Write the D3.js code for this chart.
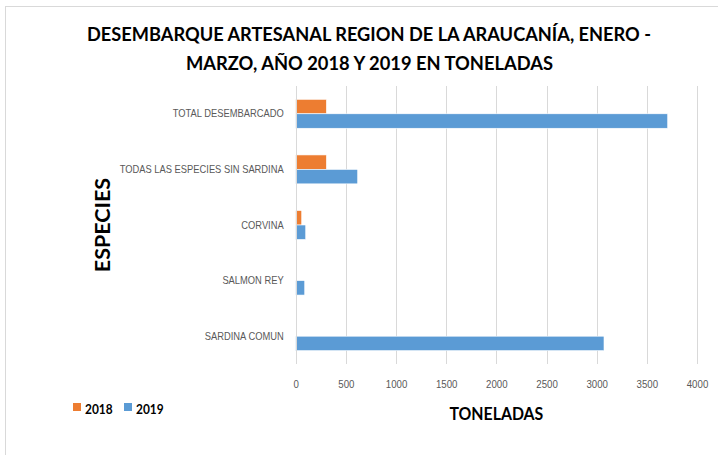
<!DOCTYPE html>
<html>
<head>
<meta charset="utf-8">
<script src="https://cdn.jsdelivr.net/npm/d3@7"></script>
<style>
  body { margin: 0; background: #fff; }
  svg { display: block; font-family: Lato, "Open Sans", sans-serif; }
</style>
</head>
<body>
<svg id="chart" width="718" height="455"></svg>
<script>
// data
var categories = ["TOTAL DESEMBARCADO", "TODAS LAS ESPECIES SIN SARDINA", "CORVINA", "SALMON REY", "SARDINA COMUN"];
var years = ["2018", "2019"];
var values2018 = [306, 306, 60, 0, 0];
var values2019 = [3708, 618, 100, 90, 3073];
var xTicks = [0, 500, 1000, 1500, 2000, 2500, 3000, 3500, 4000];
var titleLines = ["DESEMBARQUE  ARTESANAL REGION DE LA ARAUCANÍA, ENERO -", "MARZO, AÑO 2018 Y 2019 EN TONELADAS"];

var colors = { "2018": "#ed7d31", "2019": "#5b9bd5" };

var svg = d3.select("#chart");
var W = 718, H = 455;
var plot = { left: 295.7, right: 697, top: 86, bottom: 364 };

// squeeze text horizontally a bit, the original font is narrow
function condense(sel, k) {
  sel.each(function () {
    var len = this.getComputedTextLength();
    d3.select(this).attr("textLength", len * k).attr("lengthAdjust", "spacingAndGlyphs");
  });
}

svg.append("rect").attr("width", W).attr("height", H).attr("fill", "#fff");
// chart border (only top and left visible in the crop)
svg.append("rect")
  .attr("x", 5.5).attr("y", 6.5)
  .attr("width", 730).attr("height", 470)
  .attr("fill", "none").attr("stroke", "#d9d9d9").attr("stroke-width", 1);

var rows = categories.map(function (c, i) {
  return { cat: c, "2018": values2018[i], "2019": values2019[i] };
});

var x = d3.scaleLinear().domain([0, 4000]).range([plot.left, plot.right]);
var y = d3.scaleBand().domain(categories).range([plot.top, plot.bottom])
  .paddingInner(0.48).paddingOuter(0.24);
var ySub = d3.scaleBand().domain(years).range([0, y.bandwidth()]);

// gridlines
svg.append("g").selectAll("line")
  .data(xTicks.slice(1))
  .join("line")
  .attr("x1", function (d) { return Math.round(x(d)) + 0.5; })
  .attr("x2", function (d) { return Math.round(x(d)) + 0.5; })
  .attr("y1", plot.top).attr("y2", plot.bottom)
  .attr("stroke", "#d9d9d9").attr("stroke-width", 1);

// bars
var groups = svg.append("g").selectAll("g")
  .data(rows)
  .join("g")
  .attr("transform", function (d) { return "translate(0," + y(d.cat) + ")"; });

groups.selectAll("rect")
  .data(function (d) { return years.map(function (yr) { return { year: yr, value: d[yr] }; }); })
  .join("rect")
  .filter(function (d) { return d.value > 0; })
  .attr("x", x(0))
  .attr("y", function (d) { return ySub(d.year); })
  .attr("width", function (d) { return x(d.value) - x(0); })
  .attr("height", ySub.bandwidth())
  .attr("fill", function (d) { return colors[d.year]; })
  .attr("stroke", "#fff").attr("stroke-width", 0.6);

// vertical axis line
svg.append("line")
  .attr("x1", Math.round(x(0)) + 0.5).attr("x2", Math.round(x(0)) + 0.5)
  .attr("y1", plot.top).attr("y2", plot.bottom)
  .attr("stroke", "#d9d9d9").attr("stroke-width", 1);

// category labels
var yAxis = svg.append("g")
  .attr("transform", "translate(" + (plot.left - 12) + ",0)")
  .call(d3.axisLeft(y).tickSize(0).tickPadding(0));
yAxis.select(".domain").remove();
yAxis.selectAll("text")
  .attr("fill", "#595959")
  .attr("font-size", 11)
  .attr("font-family", null)
  .call(condense, 0.85);

// x tick labels
var xAxis = svg.append("g")
  .attr("transform", "translate(0," + (plot.bottom + 16.5) + ")")
  .call(d3.axisBottom(x).tickValues(xTicks).tickSize(0).tickPadding(0).tickFormat(d3.format("d")));
xAxis.select(".domain").remove();
xAxis.selectAll("text")
  .attr("fill", "#595959")
  .attr("font-size", 11)
  .attr("font-family", null)
  .call(condense, 0.88);

// title
svg.append("text")
  .attr("x", 369).attr("y", 41)
  .attr("text-anchor", "middle")
  .attr("font-size", 19).attr("font-weight", "bold").attr("fill", "#000")
  .attr("textLength", 564).attr("lengthAdjust", "spacingAndGlyphs")
  .text(titleLines[0]);
svg.append("text")
  .attr("x", 369.5).attr("y", 70)
  .attr("text-anchor", "middle")
  .attr("font-size", 19).attr("font-weight", "bold").attr("fill", "#000")
  .attr("textLength", 367).attr("lengthAdjust", "spacingAndGlyphs")
  .text(titleLines[1]);

// axis titles
svg.append("text")
  .attr("x", (plot.left + plot.right) / 2).attr("y", 420)
  .attr("text-anchor", "middle")
  .attr("font-size", 16.5).attr("font-weight", "bold").attr("fill", "#000")
  .text("TONELADAS")
  .call(condense, 0.96);

svg.append("text")
  .attr("transform", "translate(110," + ((plot.top + plot.bottom) / 2) + ") rotate(-90)")
  .attr("text-anchor", "middle")
  .attr("font-size", 21.5).attr("font-weight", "bold").attr("fill", "#000")
  .text("ESPECIES");

// legend
var legend = svg.append("g").selectAll("g")
  .data(years)
  .join("g")
  .attr("transform", function (d, i) { return "translate(" + (73 + i * 51) + ",403)"; });
legend.append("rect")
  .attr("width", 8).attr("height", 8)
  .attr("fill", function (d) { return colors[d]; });
legend.append("text")
  .attr("x", 12).attr("y", 11)
  .attr("font-size", 14).attr("font-weight", "bold").attr("fill", "#000")
  .text(function (d) { return d; })
  .call(condense, 0.85);
</script>
</body>
</html>
